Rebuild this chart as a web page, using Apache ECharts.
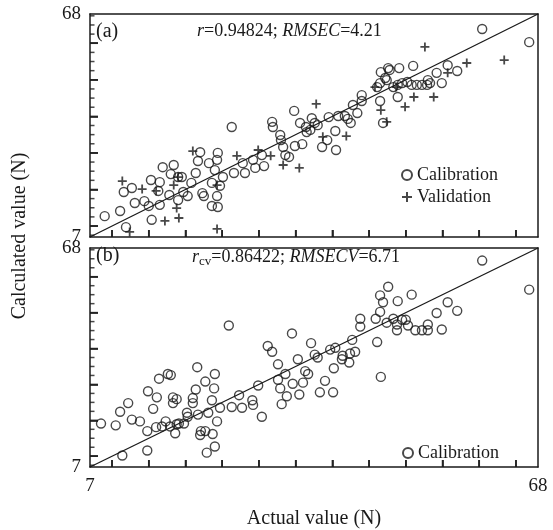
<!DOCTYPE html>
<html>
<head>
<meta charset="utf-8">
<script src="https://cdn.jsdelivr.net/npm/echarts@6/dist/echarts.min.js"></script>
<style>
html,body{margin:0;padding:0;background:#fff;}
#main{width:553px;height:530px;}
</style>
</head>
<body>
<div id="main"></div>
<script>
// ---- data ----
const axisMin = 7;
const axisMax = 68;
const axisLabelValues = [7, 68];
const xTickValues = [10, 15, 20, 25, 30, 35, 40, 45, 50, 55, 60, 65];
const yMajorTicks = [10, 20, 30, 40, 50, 60];
const yMinorTicks = [7.5, 12.5, 15, 17.5, 22.5, 25, 27.5, 32.5, 35, 37.5, 42.5, 45, 47.5, 52.5, 55, 57.5, 62.5, 65, 67.5];
const identityLine = [[7, 7], [68, 68]];

// panel (a) calibration
const calA = [
[9.0,12.7],[11.1,14.1],[11.9,9.7],[11.6,19.3],[12.7,20.4],[13.1,16.3],[14.4,16.8],[15.0,15.5],[15.3,22.6],[15.4,11.7],
[16.3,19.6],[16.5,22.0],[16.5,15.8],[16.9,26.1],[17.8,18.5],[18.0,24.2],[18.4,26.7],[19.0,23.4],[19.0,17.1],[19.5,23.4],
[19.7,19.3],[20.3,18.2],[20.8,21.8],[21.4,24.5],[21.7,27.8],[22.0,30.2],[22.3,19.0],[22.5,18.2],[23.2,27.2],[23.6,21.8],
[23.6,15.5],[24.4,15.2],[24.3,28.1],[24.4,30.0],[24.0,25.3],[24.3,18.2],[24.7,21.0],[25.1,23.4],[26.3,37.1],[26.6,24.5],
[27.8,27.2],[28.1,24.5],[29.2,28.1],[29.5,25.9],[30.4,29.4],[30.7,26.4],[31.8,38.5],[31.9,37.1],[32.9,34.9],[33.0,33.5],
[33.3,31.6],[33.6,29.4],[34.1,28.9],[34.8,41.5],[34.9,31.9],[35.6,38.2],[35.9,32.4],[36.4,37.1],[36.5,35.7],[37.2,39.5],
[37.0,36.3],[37.6,38.2],[38.0,37.6],[38.6,31.6],[39.3,33.5],[39.5,39.8],[40.4,36.0],[40.5,30.8],[40.8,40.1],[41.7,40.1],
[42.1,39.3],[42.5,38.2],[43.4,40.9],[42.8,43.1],[44.0,45.8],[44.0,44.2],[46.1,48.0],[46.5,44.2],[46.6,52.1],[47.2,50.5],
[46.9,38.2],[47.6,53.2],[47.8,52.7],[49.1,53.2],[51.0,53.8],[46.5,49.1],[47.4,49.9],[48.3,48.0],[48.9,48.6],[49.5,49.1],
[50.2,49.4],[50.8,48.6],[51.5,48.6],[52.2,48.6],[52.9,48.6],[53.3,49.1],[53.0,49.9],[54.2,51.9],[54.9,49.1],[55.7,54.0],
[57.0,52.4],[48.9,45.3],[60.4,63.9],[66.8,60.3]
];

// panel (a) validation
const valA = [
[11.4,22.3],[12.4,8.4],[14.1,20.1],[16.0,19.6],[17.2,11.4],[18.4,21.2],[18.8,14.9],[19.1,12.2],[19.0,23.4],[21.0,30.5],
[24.3,21.2],[24.3,9.2],[27.0,29.2],[29.9,30.8],[31.6,29.2],[33.3,26.7],[35.5,25.9],[37.8,43.4],[38.7,34.4],[41.9,34.6],
[45.8,48.0],[46.6,41.7],[47.4,38.5],[48.7,48.0],[49.9,42.6],[51.1,45.3],[53.8,45.3],[52.6,59.0],[55.7,51.9],[58.3,54.6],
[63.4,55.4]
];

// panel (b) calibration (cross-validation)
const calB = [
[8.5,19.1],[10.5,18.6],[11.1,22.4],[11.4,10.2],[12.2,24.8],[12.7,20.2],[13.8,19.7],[14.8,17.0],[14.8,11.6],[14.9,28.1],
[15.6,23.2],[16.1,26.4],[16.0,18.1],[16.4,31.6],[16.8,18.3],[17.3,19.7],[17.6,32.9],[18.0,32.6],[17.9,18.3],[18.3,26.4],
[18.3,24.8],[18.8,25.9],[18.6,16.4],[18.8,18.9],[19.1,19.1],[19.8,19.1],[20.2,22.1],[20.3,21.0],[21.0,26.2],[21.0,24.8],
[21.4,28.6],[21.6,34.8],[21.7,21.6],[22.0,15.9],[22.1,17.0],[22.7,30.8],[22.7,17.0],[23.1,22.1],[22.9,11.0],[23.6,25.6],
[23.7,16.2],[23.9,28.9],[24.0,32.9],[24.0,12.7],[24.3,19.7],[24.7,23.5],[25.9,46.4],[26.3,23.7],[27.3,27.0],[27.7,23.5],
[29.1,25.6],[29.2,24.3],[29.9,29.7],[30.4,21.0],[31.2,40.7],[31.8,39.1],[32.6,35.6],[32.6,31.3],[32.9,28.9],[33.1,24.5],
[33.6,32.9],[33.8,26.7],[34.5,44.2],[34.6,30.2],[35.3,37.0],[35.5,27.2],[36.0,30.5],[36.3,33.7],[36.7,32.9],[37.1,41.5],
[37.6,38.3],[38.0,37.5],[38.3,27.8],[39.0,31.0],[39.7,39.7],[40.4,40.2],[40.2,34.5],[40.1,27.8],[41.3,37.0],[41.4,38.0],
[42.3,36.1],[42.4,38.6],[42.7,42.4],[43.1,39.1],[43.8,48.3],[43.8,46.1],[45.9,48.3],[46.1,41.8],[46.5,50.2],[46.5,54.8],
[46.9,52.9],[46.6,32.1],[47.6,57.2],[47.4,47.2],[48.3,48.3],[48.8,46.7],[48.8,45.1],[48.9,53.2],[49.5,48.0],[50.0,48.0],
[50.3,46.4],[50.8,55.0],[51.3,45.1],[52.2,45.1],[53.0,46.7],[53.0,45.1],[54.2,49.9],[54.9,45.3],[55.7,52.9],[57.0,50.5],
[60.4,64.5],[66.8,56.4]
];

const annotA = ['(a)', '{i|r}=0.94824; {i|RMSEC}=4.21'];
const annotB = ['(b)', '{i|r}{sub|cv}=0.86422; {i|RMSECV}=6.71'];
const xName = 'Actual value (N)';
const yName = 'Calculated value (N)';

// ---- layout & styles ----
const FONT = '"Liberation Serif", "Times New Roman", serif';
const INK = '#1a1a1a';
const CLEAR = 'rgba(0,0,0,0)';
const plusPath = 'path://M4,0h2v4h4v2h-4v4h-2v-4h-4v-2h4z';
const panels = [
  { left: 90, top: 14, width: 448, height: 223 },
  { left: 90, top: 248, width: 448, height: 226 }
];

const grids = [], xAxes = [], yAxes = [];
const frameLine = { show: true, onZero: false, lineStyle: { color: INK, width: 1.5 } };

function addPanel(pi, withXLabels) {
  const p = panels[pi];
  const gi = grids.length;
  grids.push(Object.assign({}, p));
  const xi = xAxes.length;
  xAxes.push({
    type: 'value', gridIndex: gi, min: axisMin, max: axisMax, position: 'bottom',
    axisLine: frameLine,
    axisTick: { show: true, inside: true, length: 7, customValues: xTickValues, lineStyle: { color: INK, width: 1.6 } },
    axisLabel: withXLabels ? { show: true, customValues: axisLabelValues, color: INK, fontFamily: FONT, fontSize: 19, margin: 10 } : { show: false },
    splitLine: { show: false },
    name: withXLabels ? xName : '',
    nameLocation: 'middle', nameGap: 42,
    nameTextStyle: { color: INK, fontFamily: FONT, fontSize: 20 }
  });
  xAxes.push({
    type: 'value', gridIndex: gi, min: axisMin, max: axisMax, position: 'top',
    axisLine: frameLine, axisTick: { show: false }, axisLabel: { show: false }, splitLine: { show: false }
  });
  const yi = yAxes.length;
  yAxes.push({
    type: 'value', gridIndex: gi, min: axisMin, max: axisMax, position: 'left',
    axisLine: frameLine,
    axisTick: { show: true, inside: true, length: 8, customValues: yMajorTicks, lineStyle: { color: INK, width: 1.6 } },
    axisLabel: { show: true, customValues: axisLabelValues, color: INK, fontFamily: FONT, fontSize: 19, margin: 9 },
    splitLine: { show: false }
  });
  yAxes.push({
    type: 'value', gridIndex: gi, min: axisMin, max: axisMax, position: 'right',
    axisLine: frameLine, axisTick: { show: false }, axisLabel: { show: false }, splitLine: { show: false }
  });
  return { xi, yi };
}

const A = addPanel(0, false);
const B = addPanel(1, true);

// tick marks also placed through the panel's own axes as small bars (inside the frame)
function tickSeries(ax) {
  const base = { type: 'scatter', xAxisIndex: ax.xi, yAxisIndex: ax.yi, silent: true, clip: false, z: 6,
                 symbol: 'rect', itemStyle: { color: INK } };
  return [
    Object.assign({}, base, { data: xTickValues.map(v => [v, axisMin]), symbolSize: [1.6, 7], symbolOffset: [0, -3.5] }),
    Object.assign({}, base, { data: yMajorTicks.map(v => [axisMin, v]), symbolSize: [8, 1.6], symbolOffset: [4, 0] }),
    Object.assign({}, base, { data: yMinorTicks.map(v => [axisMin, v]), symbolSize: [4.5, 1.5], symbolOffset: [2.25, 0] })
  ];
}

const circleStyle = { color: CLEAR, borderColor: INK, borderWidth: 1.4 };

const option = {
  backgroundColor: '#fff',
  animation: false,
  grid: grids,
  xAxis: xAxes,
  yAxis: yAxes,
  legend: [
    {
      data: ['Calibration', 'Validation'], orient: 'vertical', left: 396, top: 161,
      itemWidth: 10, itemHeight: 10, itemGap: 4,
      textStyle: { color: INK, fontFamily: FONT, fontSize: 18 },
      selectedMode: false
    },
    {
      data: ['Calibration'], orient: 'vertical', left: 397, top: 439,
      itemWidth: 10, itemHeight: 10,
      textStyle: { color: INK, fontFamily: FONT, fontSize: 18 },
      selectedMode: false
    }
  ],
  graphic: [
    { type: 'text', left: 96, top: 22, style: { text: annotA[0], fill: INK, font: '20px ' + FONT } },
    { type: 'text', left: 197, top: 22, style: { text: annotA[1], fill: INK, fontFamily: FONT, fontSize: 18,
        rich: { i: { fontStyle: 'italic', fontFamily: FONT, fontSize: 18, fill: INK } } } },
    { type: 'text', left: 96, top: 246, style: { text: annotB[0], fill: INK, font: '20px ' + FONT } },
    { type: 'text', left: 192, top: 246, style: { text: annotB[1], fill: INK, fontFamily: FONT, fontSize: 18, lineHeight: 22,
        rich: { i: { fontStyle: 'italic', fontFamily: FONT, fontSize: 18, fill: INK, lineHeight: 22 },
                sub: { fontFamily: FONT, fontSize: 13, fill: INK, verticalAlign: 'bottom', lineHeight: 22 } } } },
    { type: 'text', x: 20, y: 236, rotation: Math.PI / 2,
      style: { text: yName, fill: INK, font: '20px ' + FONT, textAlign: 'center', textVerticalAlign: 'middle' } }
  ],
  series: [
    { type: 'line', xAxisIndex: A.xi, yAxisIndex: A.yi, data: identityLine, showSymbol: false, silent: true,
      lineStyle: { color: INK, width: 1.3 }, z: 1 },
    { name: 'Calibration', type: 'scatter', xAxisIndex: A.xi, yAxisIndex: A.yi, data: calA,
      symbol: 'circle', symbolSize: 9, itemStyle: circleStyle, z: 2 },
    { name: 'Validation', type: 'scatter', xAxisIndex: A.xi, yAxisIndex: A.yi, data: valA,
      symbol: plusPath, symbolSize: 9, itemStyle: { color: INK }, z: 3 },
    { type: 'line', xAxisIndex: B.xi, yAxisIndex: B.yi, data: identityLine, showSymbol: false, silent: true,
      lineStyle: { color: INK, width: 1.3 }, z: 1 },
    { name: 'Calibration', type: 'scatter', xAxisIndex: B.xi, yAxisIndex: B.yi, data: calB,
      symbol: 'circle', symbolSize: 9, itemStyle: circleStyle, z: 2 }
  ].concat(tickSeries(A), tickSeries(B))
};

const chart = echarts.init(document.getElementById('main'), null, { renderer: 'canvas' });
chart.setOption(option);
</script>
</body>
</html>
